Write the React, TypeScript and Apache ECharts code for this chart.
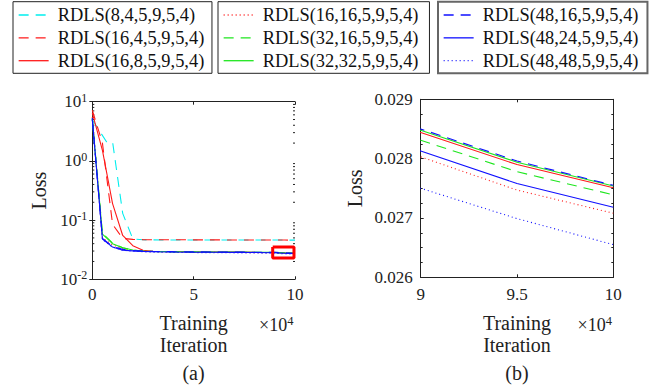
import React, { useEffect, useRef } from "react";
import * as echarts from "echarts";

const FONT = '"Liberation Serif", "Times New Roman", Times, serif';
const INK = "#222";

// Training iteration (x 10^4)
const iterX = [0, 0.5, 1, 1.5, 2, 2.5, 3, 4, 5, 6, 7, 8, 9, 9.5, 10];
const iterCyan = [0, 0.7, 1.0, 1.5, 2.0, 2.5, 3, 4, 5, 6, 7, 8, 9, 9.5, 10];

const loss8_4 = [5.0, 2.1, 2.1, 0.13, 0.048, 0.0465, 0.0463, 0.0462, 0.0462, 0.0461, 0.0461, 0.046, 0.046, 0.046, 0.0459];
const loss16_4 = [7.2, 2.0, 0.085, 0.049, 0.0472, 0.0468, 0.0466, 0.0465, 0.0464, 0.0463, 0.0462, 0.0461, 0.046, 0.046, 0.0459];
const loss16_8 = [6.5, 1.5, 0.19, 0.055, 0.037, 0.031, 0.0298, 0.0294, 0.0291, 0.0289, 0.0288, 0.0286, 0.02844, 0.0279, 0.02751];
const loss16_16 = [5.5, 0.05, 0.038, 0.033, 0.031, 0.0297, 0.0292, 0.0289, 0.0287, 0.0285, 0.0284, 0.0282, 0.02803, 0.02747, 0.02708];
const loss32_16 = [5.2, 0.06, 0.041, 0.034, 0.031, 0.0299, 0.0294, 0.0291, 0.0289, 0.0287, 0.0286, 0.0285, 0.02831, 0.02778, 0.02739];
const loss32_32 = [5.0, 0.058, 0.04, 0.034, 0.0312, 0.03, 0.0296, 0.0293, 0.0291, 0.0289, 0.0288, 0.0287, 0.02848, 0.02794, 0.02754];
const loss48_16 = [5.0, 0.049, 0.036, 0.032, 0.0305, 0.0299, 0.0296, 0.0293, 0.0291, 0.0289, 0.0288, 0.0287, 0.0285, 0.02796, 0.02755];
const loss48_24 = [5.1, 0.048, 0.035, 0.031, 0.0302, 0.0296, 0.0292, 0.0289, 0.0287, 0.0286, 0.0285, 0.0284, 0.02813, 0.02758, 0.02718];
const loss48_48 = [5.3, 0.047, 0.035, 0.031, 0.0298, 0.0292, 0.0288, 0.0285, 0.0283, 0.0281, 0.028, 0.0278, 0.0275, 0.02699, 0.02655];

// zoom-region box drawn on panel (a)
const boxX = [8.9, 9.95, 9.95, 8.9, 8.9];
const boxY = [0.035, 0.035, 0.0228, 0.0228, 0.035];

// log minor tick values of panel (a)
const logMinor = [0.02, 0.03, 0.04, 0.05, 0.06, 0.07, 0.08, 0.09, 0.2, 0.3, 0.4, 0.5, 0.6, 0.7, 0.8, 0.9, 2, 3, 4, 5, 6, 7, 8, 9];

const legend1 = ["RDLS(8,4,5,9,5,4)", "RDLS(16,4,5,9,5,4)", "RDLS(16,8,5,9,5,4)"];
const legend2 = ["RDLS(16,16,5,9,5,4)", "RDLS(32,16,5,9,5,4)", "RDLS(32,32,5,9,5,4)"];
const legend3 = ["RDLS(48,16,5,9,5,4)", "RDLS(48,24,5,9,5,4)", "RDLS(48,48,5,9,5,4)"];

const DASH = [10, 7];
const DOT = [1, 3];
const CYAN = "#00eeee";
const RED = "#ff1a1a";
const GREEN = "#1fe61f";
const BLUE = "#1010ff";

const defs = [
  { name: legend1[0], x: iterCyan, y: loss8_4, color: CYAN, type: DASH },
  { name: legend1[1], x: iterX, y: loss16_4, color: RED, type: DASH },
  { name: legend1[2], x: iterX, y: loss16_8, color: RED, type: "solid" },
  { name: legend2[0], x: iterX, y: loss16_16, color: RED, type: DOT },
  { name: legend2[1], x: iterX, y: loss32_16, color: GREEN, type: DASH },
  { name: legend2[2], x: iterX, y: loss32_32, color: GREEN, type: "solid" },
  { name: legend3[0], x: iterX, y: loss48_16, color: BLUE, type: DASH },
  { name: legend3[1], x: iterX, y: loss48_24, color: BLUE, type: "solid" },
  { name: legend3[2], x: iterX, y: loss48_48, color: BLUE, type: DOT },
];

const tickLabel = { fontSize: 17, fontFamily: FONT, color: INK };
const axisLine = { show: true, lineStyle: { color: INK, width: 1 } };
const axisTick = { show: true, inside: true, length: 3, lineStyle: { color: INK } };
const nameStyle = { fontSize: 20, fontFamily: FONT, color: INK, lineHeight: 22.5 };

function legendBox(data: string[], left: number, pad: number[], border: string, bw: number) {
  return {
    data,
    left,
    top: 1.7,
    orient: "vertical",
    itemWidth: 30,
    itemHeight: 14,
    itemGap: 2.85,
    padding: pad,
    borderColor: border,
    borderWidth: bw,
    backgroundColor: "#fff",
    selectedMode: false,
    itemStyle: { opacity: 0, borderWidth: 0 },
    lineStyle: { width: 1.3 },
    textStyle: { fontSize: 18.4, fontFamily: FONT, color: "#111", padding: [0, 0, 0, 4], lineHeight: 20 },
  };
}

export default function App() {
  const ref = useRef<HTMLDivElement>(null);
  useEffect(() => {
    if (!ref.current) return;
    const chart = echarts.init(ref.current, undefined, { renderer: "svg" });

    const series: any[] = [];
    defs.forEach((d) => {
      const data = d.x.map((v, i) => [v, d.y[i]]);
      [0, 2].forEach((ai) => {
        series.push({
          type: "line",
          name: d.name,
          xAxisIndex: ai,
          yAxisIndex: ai,
          data,
          symbol: "none",
          showSymbol: false,
          clip: true,
          lineStyle: { color: d.color, width: 1.1, type: d.type },
          itemStyle: { color: d.color },
        });
      });
    });
    series.push({
      type: "line",
      name: "zoomBox",
      xAxisIndex: 0,
      yAxisIndex: 0,
      data: boxX.map((v, i) => [v, boxY[i]]),
      symbol: "none",
      clip: false,
      lineStyle: { color: "#ff0000", width: 3 },
      silent: true,
    });
    series.push({
      type: "custom",
      name: "minorTicks",
      xAxisIndex: 0,
      yAxisIndex: 0,
      silent: true,
      clip: false,
      data: logMinor.map((v) => [0, v]),
      renderItem: (params: any, api: any) => {
        const cs = params.coordSys;
        const y = api.coord([0, api.value(1)])[1];
        const st = { stroke: INK, lineWidth: 1 };
        return {
          type: "group",
          children: [
            { type: "line", shape: { x1: cs.x, y1: y, x2: cs.x + 2, y2: y }, style: st },
            { type: "line", shape: { x1: cs.x + cs.width - 2, y1: y, x2: cs.x + cs.width, y2: y }, style: st },
          ],
        };
      },
    });

    const logFmt = (v: number) => `{b|10}{s|${Math.round(Math.log10(v))}}`;
    const logRich = {
      b: { fontSize: 17, fontFamily: FONT, color: INK, lineHeight: 20 },
      s: { fontSize: 12, fontFamily: FONT, color: INK, lineHeight: 12, verticalAlign: "top" },
    };
    const supRich = {
      b: { fontSize: 18, fontFamily: FONT, fill: INK, lineHeight: 22 },
      s: { fontSize: 12.5, fontFamily: FONT, fill: INK, lineHeight: 12, verticalAlign: "top" },
    };

    chart.setOption({
      animation: false,
      backgroundColor: "#fff",
      legend: [
        legendBox(legend1, 13, [3.3, 7.7, 2.6, 5], INK, 1),
        legendBox(legend2, 218, [3.3, 11, 2.6, 5], INK, 1),
        legendBox(legend3, 438, [3.3, 9, 2.6, 5], "#666", 2),
      ],
      grid: [
        { left: 92.3, top: 101.7, width: 202.7, height: 177.6 },
        { left: 420.7, top: 99.3, width: 192.6, height: 178 },
      ],
      xAxis: [
        {
          gridIndex: 0, type: "value", position: "bottom", min: 0, max: 10, interval: 5,
          axisLine, axisTick, splitLine: { show: false },
          axisLabel: { ...tickLabel, margin: 7 },
          name: "Training\nIteration", nameLocation: "middle", nameGap: 32, nameTextStyle: nameStyle,
        },
        {
          gridIndex: 0, type: "value", position: "top", min: 0, max: 10, interval: 5,
          axisLine, axisTick, splitLine: { show: false }, axisLabel: { show: false },
        },
        {
          gridIndex: 1, type: "value", position: "bottom", min: 9, max: 10, interval: 0.5,
          axisLine, axisTick, splitLine: { show: false },
          axisLabel: { ...tickLabel, margin: 9 },
          name: "Training\nIteration", nameLocation: "middle", nameGap: 34, nameTextStyle: nameStyle,
        },
        {
          gridIndex: 1, type: "value", position: "top", min: 9, max: 10, interval: 0.5,
          axisLine, axisTick, splitLine: { show: false }, axisLabel: { show: false },
        },
      ],
      yAxis: [
        {
          gridIndex: 0, type: "log", logBase: 10, position: "left", min: 0.01, max: 10,
          axisLine, axisTick, splitLine: { show: false },
          axisLabel: { formatter: logFmt, rich: logRich, margin: 5 },
          name: "Loss", nameLocation: "middle", nameGap: 42, nameTextStyle: nameStyle,
        },
        {
          gridIndex: 0, type: "log", logBase: 10, position: "right", min: 0.01, max: 10,
          axisLine, axisTick, splitLine: { show: false }, axisLabel: { show: false },
        },
        {
          gridIndex: 1, type: "value", position: "left", min: 0.026, max: 0.029, interval: 0.001,
          axisLine, axisTick, splitLine: { show: false },
          minorTick: { show: true, splitNumber: 4, length: 2, lineStyle: { color: INK } },
          axisLabel: { ...tickLabel, margin: 8, formatter: (v: number) => v.toFixed(3) },
          name: "Loss", nameLocation: "middle", nameGap: 54, nameTextStyle: nameStyle,
        },
        {
          gridIndex: 1, type: "value", position: "right", min: 0.026, max: 0.029, interval: 0.001,
          axisLine, axisTick, splitLine: { show: false },
          minorTick: { show: true, splitNumber: 4, length: 2, lineStyle: { color: INK } },
          axisLabel: { show: false },
        },
      ],
      graphic: [
        {
          type: "text", x: 293.5, y: 325,
          style: { text: "{b|×10}{s|4}", align: "right", verticalAlign: "middle", rich: supRich },
        },
        {
          type: "text", x: 612, y: 325,
          style: { text: "{b|×10}{s|4}", align: "right", verticalAlign: "middle", rich: supRich },
        },
        {
          type: "text", x: 193.5, y: 373,
          style: { text: "(a)", align: "center", verticalAlign: "middle", fontSize: 20, fontFamily: FONT, fill: INK },
        },
        {
          type: "text", x: 517, y: 373.3,
          style: { text: "(b)", align: "center", verticalAlign: "middle", fontSize: 20, fontFamily: FONT, fill: INK },
        },
      ],
      series,
    });
    return () => chart.dispose();
  }, []);
  return <div ref={ref} style={{ position: "absolute", left: 0, top: 0, width: 662, height: 390 }} />;
}
